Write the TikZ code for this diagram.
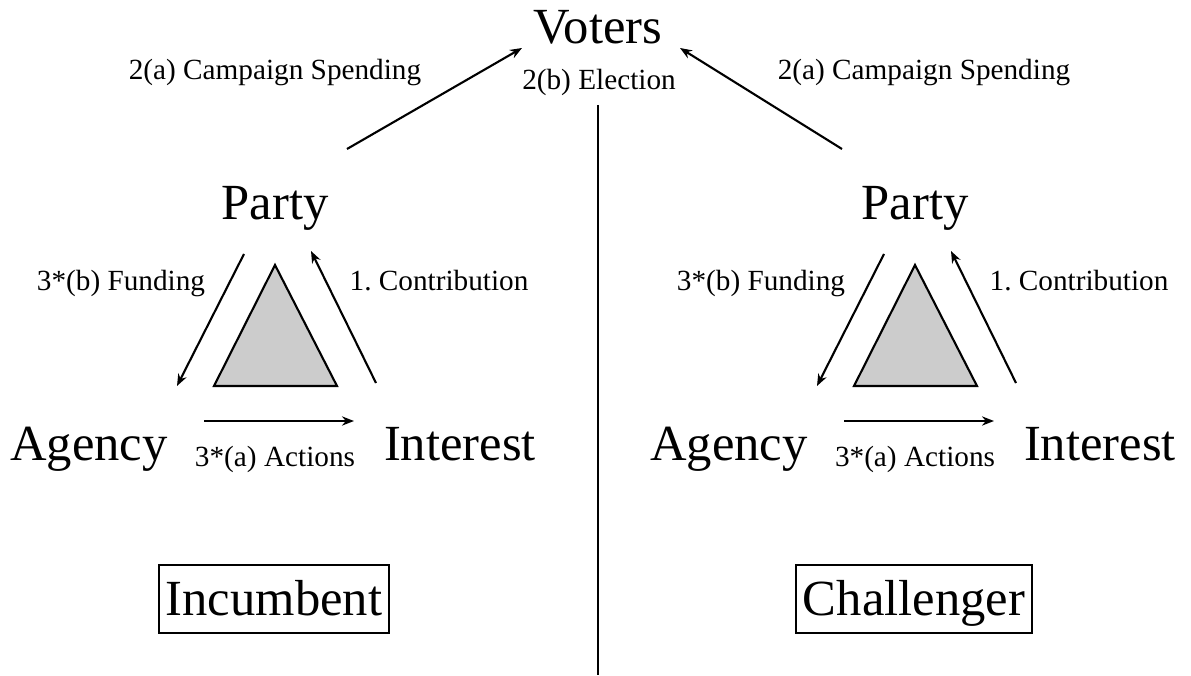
\documentclass[tikz,border=0pt]{standalone}
\usepackage{fontspec}
\setmainfont{Liberation Serif}
\usetikzlibrary{arrows.meta}
\tikzstyle{actor} = [inner sep=0pt, anchor=base, font=\fontsize{36}{40}\selectfont]
\tikzstyle{lbl} = [inner sep=0pt, anchor=base, font=\fontsize{20.8}{24}\selectfont]
\tikzstyle{side} = [draw, line width=1.2pt, inner xsep=5pt, inner ysep=0pt,
    text height=24pt, text depth=0pt, minimum height=48pt, font=\fontsize{36}{40}\selectfont]
\tikzstyle{line} = [draw, line width=1.5pt, -{Stealth[length=3mm, width=2.3mm]}]

\begin{document}
\begin{tikzpicture}[x=0.025cm, y=-0.025cm]
      \useasboundingbox (0,0) rectangle (1191,676);
      \node [actor] (voters) at (598, 44) {Voters};
      \node [lbl] (elect) at (599, 90) {2(b) Election};
      \coordinate (top) at (598, 105);
      \coordinate (bottom) at (598, 675);
      \draw [line width=1.5pt] (top) -- (bottom);
      \coordinate (vl) at (522, 48);
      \coordinate (vr) at (680, 48);
      % both sides have the same triangle, shifted by 640
      \foreach \s/\dx/\name in {inc/0/Incumbent, cha/640/Challenger} {
        \begin{scope}[xshift=\dx*0.025cm]
          \node [actor] (party-\s) at (275, 220) {Party};
          \node [actor] (agency-\s) at (89, 460) {Agency};
          \node [actor] (interest-\s) at (460, 460) {Interest};
          \node [side] (box-\s) at (274, 599) {\name};
          \node [lbl] (fund-\s) at (121, 290) {3*(b) Funding};
          \node [lbl] (contr-\s) at (439, 290) {1.\ Contribution};
          \node [lbl] (act-\s) at (275, 466) {3*(a) Actions};
          \filldraw [fill=black!20, line width=1.5pt] (275,265) -- (214,386) -- (337,386) -- cycle;
          \coordinate (f1-\s) at (244, 254);
          \coordinate (f2-\s) at (177, 386);
          \coordinate (c1-\s) at (376, 383);
          \coordinate (c2-\s) at (311, 251);
          \coordinate (a1-\s) at (204, 421);
          \coordinate (a2-\s) at (354, 421);
          \path [line] (f1-\s) -- (f2-\s);
          \path [line] (c1-\s) -- (c2-\s);
          \path [line] (a1-\s) -- (a2-\s);
        \end{scope}
      }
      \coordinate (sl) at (347, 149);
      \coordinate (sr) at (842, 149);
      \path [line] (sl) -- (vl);
      \path [line] (sr) -- (vr);
      \node [lbl] (spend-l) at (275, 80) {2(a) Campaign Spending};
      \node [lbl] (spend-r) at (924, 80) {2(a) Campaign Spending};
  \end{tikzpicture}
\end{document}
